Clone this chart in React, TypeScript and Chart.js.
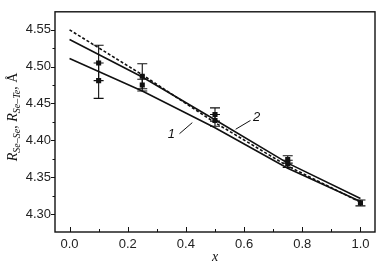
import React, { useEffect, useRef } from 'react';
import { Chart, registerables } from 'chart.js';

Chart.register(...registerables);

// Model curves
const curveX = [0, 0.25, 0.5, 0.75, 1.0];
const curve1 = [4.511, 4.467, 4.417, 4.362, 4.317];
const curve2 = [4.537, 4.486, 4.428, 4.369, 4.321];
const curveDashed = [4.55, 4.489, 4.424, 4.365, 4.316];

// Experimental points with error bars
const pointX = [0.1, 0.1, 0.25, 0.25, 0.5, 0.5, 0.75, 0.75, 1.0];
const pointY = [4.505, 4.481, 4.487, 4.475, 4.435, 4.427, 4.374, 4.368, 4.315];
const pointErr = [0.024, 0.024, 0.017, 0.008, 0.009, 0.008, 0.005, 0.005, 0.004];

// Axes
const xTicks = [0, 0.2, 0.4, 0.6, 0.8, 1.0];
const xMinor = [0.1, 0.3, 0.5, 0.7, 0.9];
const yTicks = [4.3, 4.35, 4.4, 4.45, 4.5, 4.55];
const yMinor = [4.325, 4.375, 4.425, 4.475, 4.525];
const xRange = [-0.05, 1.05];
const yRange = [4.2755, 4.5745];

// Curve labels: [text, labelX, labelY, leaderX0, leaderY0, leaderX1, leaderY1]
const curveLabels: [string, number, number, number, number, number, number][] = [
  ['1', 0.35, 4.408, 0.378, 4.409, 0.422, 4.424],
  ['2', 0.643, 4.431, 0.571, 4.415, 0.622, 4.427],
];

const SERIF = '"Liberation Serif", "DejaVu Serif", serif';
const SANS = '"Liberation Sans", Arial, sans-serif';

const drawPlugin = {
  id: 'customDraw',
  beforeDatasetsDraw(chart: any) {
    const { ctx } = chart;
    const xs = chart.scales.x;
    const ys = chart.scales.y;
    ctx.save();
    ctx.strokeStyle = '#111';
    ctx.lineWidth = 1.1;
    for (let i = 0; i < pointX.length; i++) {
      const px = xs.getPixelForValue(pointX[i]);
      const top = ys.getPixelForValue(pointY[i] + pointErr[i]);
      const bot = ys.getPixelForValue(pointY[i] - pointErr[i]);
      const cap = 5;
      ctx.beginPath();
      ctx.moveTo(px, top);
      ctx.lineTo(px, bot);
      ctx.moveTo(px - cap, top);
      ctx.lineTo(px + cap, top);
      ctx.moveTo(px - cap, bot);
      ctx.lineTo(px + cap, bot);
      ctx.stroke();
    }
    ctx.restore();
  },
  afterDraw(chart: any) {
    const { ctx, chartArea } = chart;
    const xs = chart.scales.x;
    const ys = chart.scales.y;
    const { left, right, top, bottom } = chartArea;
    ctx.save();
    ctx.strokeStyle = '#111';
    ctx.lineWidth = 1.4;
    ctx.strokeRect(left, top, right - left, bottom - top);

    ctx.lineWidth = 1;
    ctx.beginPath();
    // x ticks (inward)
    xTicks.forEach((v) => {
      const p = Math.round(xs.getPixelForValue(v)) + 0.5;
      ctx.moveTo(p, bottom);
      ctx.lineTo(p, bottom - 5);
    });
    xMinor.forEach((v) => {
      const p = Math.round(xs.getPixelForValue(v)) + 0.5;
      ctx.moveTo(p, bottom);
      ctx.lineTo(p, bottom - 3);
    });
    // y ticks (outward)
    yTicks.forEach((v) => {
      const p = Math.round(ys.getPixelForValue(v)) + 0.5;
      ctx.moveTo(left, p);
      ctx.lineTo(left - 4, p);
    });
    yMinor.forEach((v) => {
      const p = Math.round(ys.getPixelForValue(v)) + 0.5;
      ctx.moveTo(left, p);
      ctx.lineTo(left - 2.5, p);
    });
    ctx.stroke();

    // curve labels and leaders
    ctx.fillStyle = '#111';
    ctx.font = 'italic 13px ' + SANS;
    ctx.textAlign = 'center';
    ctx.textBaseline = 'middle';
    curveLabels.forEach(([t, lx, ly, ax, ay, bx, by]) => {
      ctx.fillText(t, xs.getPixelForValue(lx), ys.getPixelForValue(ly));
      ctx.beginPath();
      ctx.moveTo(xs.getPixelForValue(ax), ys.getPixelForValue(ay));
      ctx.lineTo(xs.getPixelForValue(bx), ys.getPixelForValue(by));
      ctx.stroke();
    });

    // x title
    ctx.font = 'italic 14px ' + SERIF;
    ctx.textAlign = 'center';
    ctx.textBaseline = 'alphabetic';
    ctx.fillText('x', (left + right) / 2, 261);

    // y title with subscripts
    const pieces: { t: string; f: string; dy: number }[] = [
      { t: 'R', f: 'italic 14px ' + SERIF, dy: 0 },
      { t: 'Se\u2013Se', f: 'italic 10px ' + SERIF, dy: 3 },
      { t: ', ', f: '14px ' + SERIF, dy: 0 },
      { t: 'R', f: 'italic 14px ' + SERIF, dy: 0 },
      { t: 'Se\u2013Te', f: 'italic 10px ' + SERIF, dy: 3 },
      { t: ', \u00C5', f: '14px ' + SERIF, dy: 0 },
    ];
    let total = 0;
    const widths = pieces.map((p) => {
      ctx.font = p.f;
      const w = ctx.measureText(p.t).width;
      total += w;
      return w;
    });
    ctx.translate(17, (top + bottom) / 2 - 5);
    ctx.rotate(-Math.PI / 2);
    ctx.textAlign = 'left';
    let cx = -total / 2;
    pieces.forEach((p, i) => {
      ctx.font = p.f;
      ctx.fillText(p.t, cx, p.dy);
      cx += widths[i];
    });
    ctx.restore();
  },
};

export default function App() {
  const canvasRef = useRef<HTMLCanvasElement | null>(null);

  useEffect(() => {
    document.body.style.margin = '0';
    const canvas = canvasRef.current;
    if (!canvas) return;
    const line = (ys: number[], dash: number[]) => ({
      type: 'line' as const,
      data: curveX.map((x, i) => ({ x, y: ys[i] })),
      borderColor: '#111',
      borderWidth: 1.6,
      borderDash: dash,
      pointRadius: 0,
      fill: false,
      tension: 0,
    });
    const chart = new Chart(canvas, {
      type: 'scatter',
      data: {
        datasets: [
          line(curve1, []),
          line(curve2, []),
          line(curveDashed, [3, 2]),
          {
            type: 'scatter',
            data: pointX.map((x, i) => ({ x, y: pointY[i] })),
            pointStyle: 'rect',
            pointRadius: 3.6,
            backgroundColor: '#111',
            borderColor: '#111',
            borderWidth: 0,
          } as any,
        ],
      },
      options: {
        animation: false,
        responsive: true,
        maintainAspectRatio: false,
        layout: { padding: { top: 3, right: 4, left: 0, bottom: 0 } },
        plugins: { legend: { display: false }, tooltip: { enabled: false } },
        scales: {
          x: {
            type: 'linear',
            min: xRange[0],
            max: xRange[1],
            grid: { display: false, drawTicks: false },
            border: { display: false },
            afterBuildTicks: (s: any) => {
              s.ticks = xTicks.map((v) => ({ value: v }));
            },
            afterFit: (s: any) => {
              s.height = 35;
            },
            ticks: {
              padding: 5,
              color: '#222',
              font: { family: SANS, size: 13 },
              callback: (v: any) => Number(v).toFixed(1),
            },
          },
          y: {
            type: 'linear',
            min: yRange[0],
            max: yRange[1],
            grid: { display: false, drawTicks: false },
            border: { display: false },
            afterBuildTicks: (s: any) => {
              s.ticks = yTicks.map((v) => ({ value: v }));
            },
            afterFit: (s: any) => {
              s.width = 55;
            },
            ticks: {
              padding: 4,
              color: '#222',
              font: { family: SANS, size: 13 },
              callback: (v: any) => Number(v).toFixed(2),
            },
          },
        },
      },
      plugins: [drawPlugin],
    });
    return () => chart.destroy();
  }, []);

  return (
    <div style={{ width: 379, height: 267, position: 'relative' }}>
      <canvas ref={canvasRef} />
    </div>
  );
}
